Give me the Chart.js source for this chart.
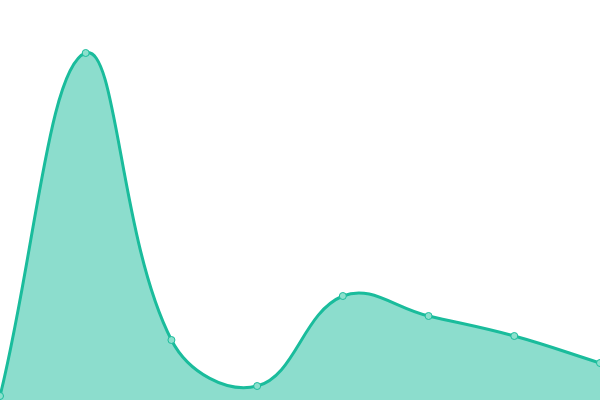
<!DOCTYPE html>
<html>
<head>
<meta charset="utf-8">
<script src="https://cdn.jsdelivr.net/npm/chart.js@4/dist/chart.umd.min.js"></script>
<style>
html,body{margin:0;padding:0;background:#fff;}
#wrap{width:600px;height:400px;}
</style>
</head>
<body>
<div id="wrap"><canvas id="c"></canvas></div>
<script>
const categories = ["1", "2", "3", "4", "5", "6", "7", "8"];
const seriesValues = [4, 347, 60, 14, 104, 84, 64, 37];

new Chart(document.getElementById('c'), {
  type: 'line',
  data: {
    labels: categories,
    datasets: [{
      data: seriesValues,
      fill: true,
      backgroundColor: 'rgba(26,188,156,0.5)',
      borderColor: '#1abc9c',
      borderWidth: 3,
      tension: 0.4,
      pointRadius: 3.5,
      pointBorderWidth: 1,
      pointBackgroundColor: '#8ce0cd',
      pointBorderColor: '#1abc9c'
    }]
  },
  options: {
    responsive: true,
    maintainAspectRatio: false,
    animation: false,
    layout: { padding: 0, autoPadding: false },
    plugins: { legend: { display: false }, tooltip: { enabled: false } },
    scales: {
      x: { display: false, offset: false },
      y: { display: false, min: 0, max: 400 }
    }
  }
});
</script>
</body>
</html>
